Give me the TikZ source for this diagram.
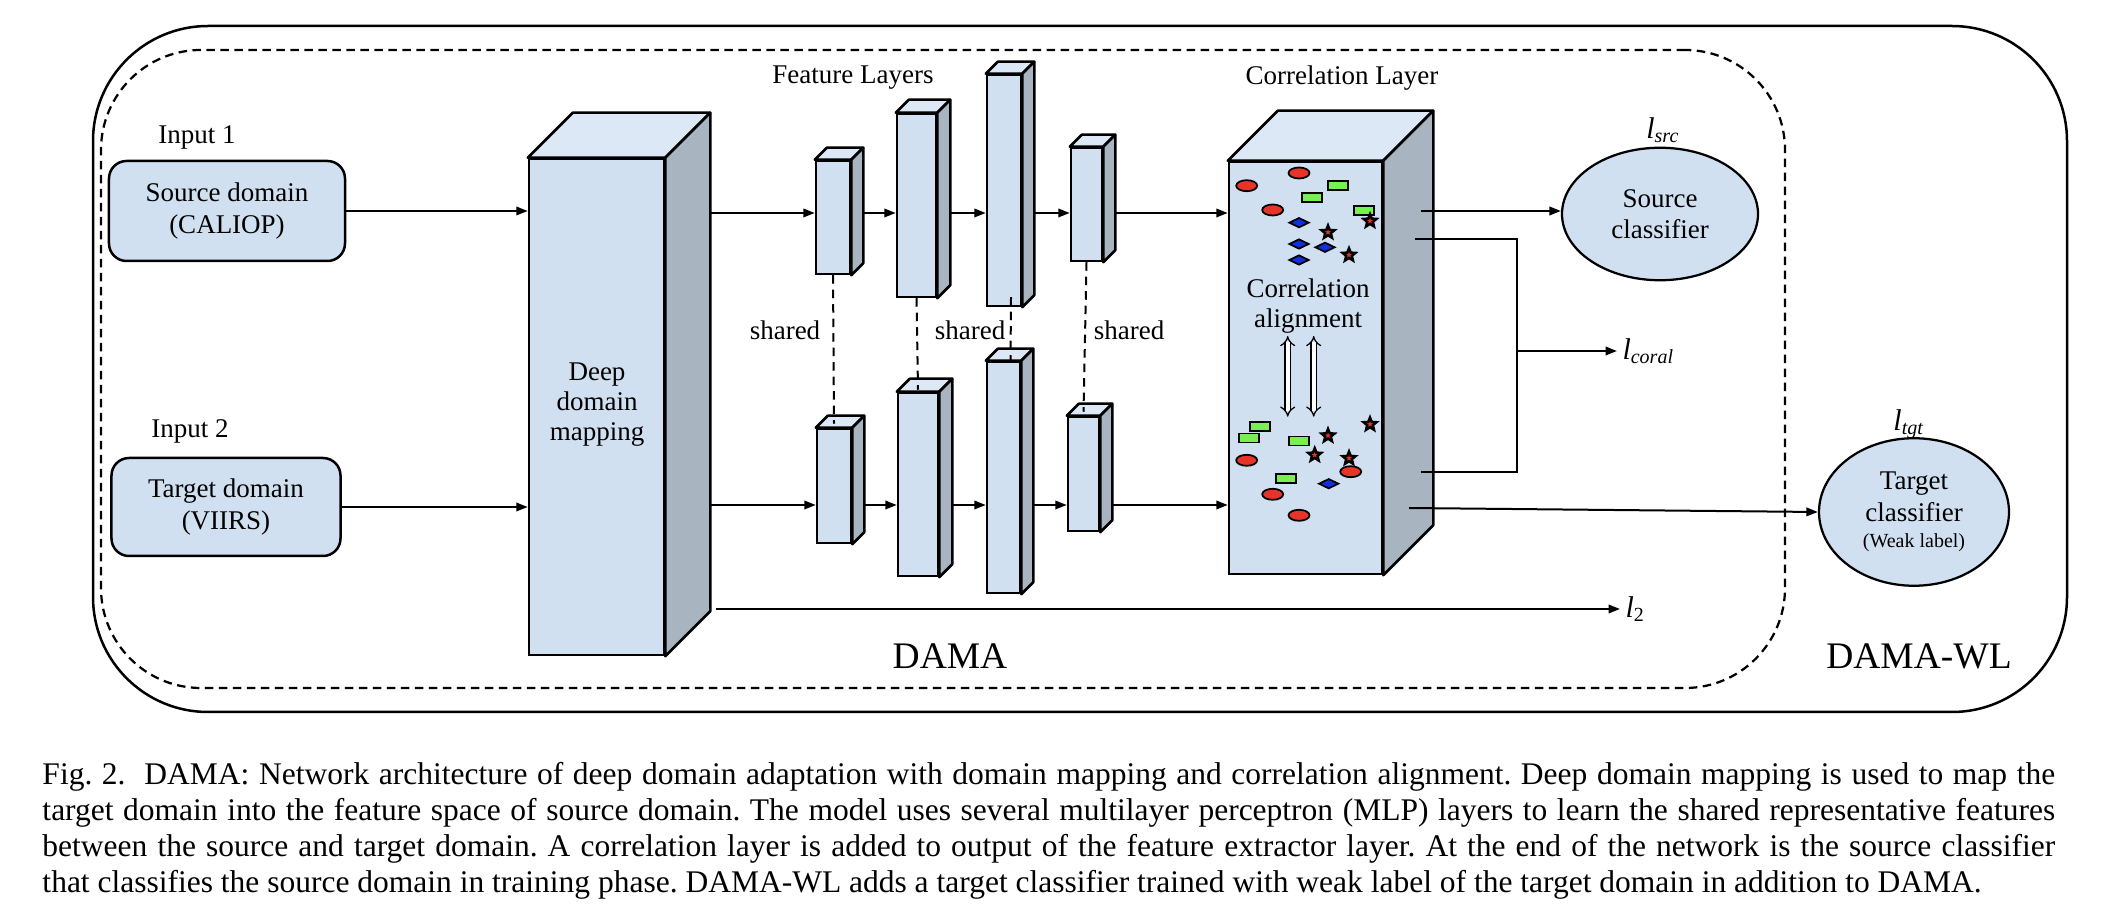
\documentclass[tikz,border=0pt]{standalone}
\usepackage{fontspec}
\setmainfont{Liberation Serif}
\usetikzlibrary{shapes.geometric, arrows.meta, calc, fit}
\definecolor{frontc}{RGB}{209,224,240}
\definecolor{topc}{RGB}{220,232,245}
\definecolor{sidec}{RGB}{168,180,192}
\definecolor{redc}{RGB}{232,52,40}
\definecolor{greenc}{RGB}{120,240,80}
\definecolor{bluec}{RGB}{16,48,224}
\tikzset{
  frontface/.style={draw=black, fill=frontc, line width=1pt, inner sep=0pt},
  topface/.style={draw=black, fill=topc, line width=1pt, line join=round},
  sideface/.style={draw=black, fill=sidec, line width=1pt, line join=round},
  arr/.style={line width=0.8pt, -{Triangle[length=4.6pt,width=3.4pt]}},
  conn/.style={line width=0.8pt},
  shareline/.style={line width=0.8pt, dash pattern=on 3.4pt off 2.4pt},
  txt/.style={font=\fontsize{10.8}{12.5}\selectfont, align=center, inner sep=1pt},
  big/.style={font=\fontsize{15}{18}\selectfont, inner sep=1pt},
  lab/.style={font=\fontsize{12}{14}\selectfont, inner sep=2pt},
  inbox/.style={draw=black, fill=frontc, line width=1pt, rounded corners=7pt, txt},
  clsf/.style={ellipse, draw=black, fill=frontc, line width=0.9pt, txt, inner sep=0pt},
  redell/.style={ellipse, minimum width=8.4pt, minimum height=4.4pt, inner sep=0pt, fill=redc, draw=black, line width=0.7pt},
  greenbox/.style={rectangle, minimum width=8.2pt, minimum height=3.6pt, inner sep=0pt, fill=greenc, draw=black, line width=0.7pt},
  bluedia/.style={diamond, minimum width=8pt, minimum height=4pt, aspect=2, inner sep=0pt, fill=bluec, draw=black, line width=0.7pt},
  redstar/.style={star, star points=5, star point ratio=2.3, minimum size=5.4pt, inner sep=0pt, fill=redc, draw=black, line width=1pt, line join=miter},
  dblarr/.style={line width=0.5pt, double=white, double distance=1.6pt, {Implies}-{Implies}},
}
\newcommand\mycub[6]{%
  \node[frontface, fit={(#2,#3) (#4,#5)}] (#1) {};
  \filldraw[topface] (#1.north west) -- ++(#6,-#6) -- ($(#1.north east)+(#6,-#6)$) -- (#1.north east) -- cycle;
  \filldraw[sideface] (#1.north east) -- ++(#6,-#6) -- ($(#1.south east)+(#6,-#6)$) -- (#1.south east) -- cycle;
}
\begin{document}
\begin{tikzpicture}[x=0.4pt, y=-0.4pt]
\useasboundingbox (0,0) rectangle (2112,924);

% frames
\node[fit={(93,26) (2067,712)}, draw, line width=1pt, rounded corners=46pt, inner sep=0pt] (outer) {};
\node[fit={(101,50) (1785,688)}, draw, line width=0.9pt, rounded corners=40pt, inner sep=0pt, dash pattern=on 3.4pt off 2.2pt] (dama) {};
\node[big] (damalbl) at (950,656) {DAMA};
\node[big] (damawl) at (1919,656) {DAMA-WL};

% inputs
\node[txt] (in1) at (197,137) {Input 1};
\node[txt] (in2) at (190,431) {Input 2};
\node[inbox, minimum width=94.4pt, minimum height=40pt] (src) at (227,211) {Source domain\\(CALIOP)};
\node[inbox, minimum width=91.6pt, minimum height=39.2pt] (tgt) at (226,507) {Target domain\\(VIIRS)};

% deep domain mapping
\mycub{DDM}{529}{159}{664}{655}{45}
\node[txt, font=\fontsize{10.8}{12}\selectfont] (ddmtxt) at (597,405) {Deep\\domain\\mapping};

\coordinate (ytop) at (0,213);
\coordinate (ybot) at (0,505);

\draw[arr] (src.east) -- (src.east -| DDM.west);
\draw[arr] (tgt.east) -- (tgt.east -| DDM.west);

% feature layers
\node[txt] (fl) at (853,78) {Feature Layers};
\mycub{L1}{816}{161}{850}{274}{12}
\mycub{L2}{897}{114}{936}{297}{13}
\mycub{L3}{987}{75}{1021}{306}{12}
\mycub{L4}{1071}{148}{1102}{261}{12}
\mycub{L1b}{817}{429}{851}{543}{12}
\mycub{L2b}{898}{393}{938}{576}{13}
\mycub{L3b}{987}{362}{1020}{593}{12}
\mycub{L4b}{1068}{417}{1099}{531}{12}

% correlation layer
\node[txt] (cllbl) at (1342,78) {Correlation Layer};
\mycub{CL}{1229}{162}{1382}{574}{50}

% arrows along rows
\draw[arr] ($(DDM.east |- ytop)+(45,0)$) -- (L1.west |- ytop);
\draw[arr] ($(L1.east |- ytop)+(12,0)$) -- (L2.west |- ytop);
\draw[arr] ($(L2.east |- ytop)+(13,0)$) -- (L3.west |- ytop);
\draw[arr] ($(L3.east |- ytop)+(12,0)$) -- (L4.west |- ytop);
\draw[arr] ($(L4.east |- ytop)+(12,0)$) -- (CL.west |- ytop);
\draw[arr] ($(DDM.east |- ybot)+(45,0)$) -- (L1b.west |- ybot);
\draw[arr] ($(L1b.east |- ybot)+(12,0)$) -- (L2b.west |- ybot);
\draw[arr] ($(L2b.east |- ybot)+(13,0)$) -- (L3b.west |- ybot);
\draw[arr] ($(L3b.east |- ybot)+(12,0)$) -- (L4b.west |- ybot);
\draw[arr] ($(L4b.east |- ybot)+(12,0)$) -- (CL.west |- ybot);

% shared
\draw[shareline] (L1.south) -- ($(L1b.north)+(0,-4)$);
\draw[shareline] (L2.south) -- ($(L2b.north)+(0,-2)$);
\draw[shareline] ($(L3.south)+(7,-10)$) -- ($(L3b.north)+(7,0)$);
\draw[shareline] (L4.south) -- ($(L4b.north)+(0,-4)$);
\node[txt] (sh1) at (785,330) {shared};
\node[txt] (sh2) at (970,330) {shared};
\node[txt] (sh3) at (1129,330) {shared};

% shapes inside correlation layer
\foreach \x/\y [count=\i] in {1299/173, 1246.7/185.7, 1272.7/210, 1246.7/460.3, 1350.7/471.7, 1272.7/494.3, 1299/515.3}
  \node[redell] (re\i) at (\x,\y) {};
\foreach \x/\y [count=\i] in {1338/185.3, 1312/197.7, 1364/210.3, 1260/426.3, 1249/438, 1299/441, 1286/478.2}
  \node[greenbox] (gr\i) at (\x,\y) {};
\foreach \x/\y [count=\i] in {1299/222.7, 1299/244, 1325/247.3, 1299/260, 1328.7/483.7}
  \node[bluedia] (bd\i) at (\x,\y) {};
\foreach \x/\y [count=\i] in {1370/221, 1328/232.3, 1349/255, 1370/424.3, 1328/435.7, 1314.7/455, 1349/458.3}
  \node[redstar] (st\i) at (\x,\y) {};

\node[txt, font=\fontsize{10.8}{11.8}\selectfont] (corrtxt) at (1308,306) {Correlation\\alignment};
\coordinate (da1s) at (1287.7,336);
\coordinate (da1e) at (1287.7,416.7);
\coordinate (da2s) at (1313.7,336);
\coordinate (da2e) at (1313.7,416.7);
\draw[dblarr] (da1s) -- (da1e);
\draw[dblarr] (da2s) -- (da2e);

% classifiers
\node[clsf, minimum width=78.4pt, minimum height=53pt] (scls) at (1660,214) {Source\\classifier};
\node[clsf, minimum width=76pt, minimum height=59pt] (tcls) at (1914,512) {Target\\classifier\\[-2pt]{\fontsize{8}{9}\selectfont (Weak label)}};
\node[lab] (lsrc) at (1663,130) {\textit{l}\textsubscript{\textit{src}}};
\node[lab] (ltgt) at (1909,424) {\textit{l}\textsubscript{\textit{tgt}}};
\node[lab, anchor=west] (lcoral) at (1617,351) {\textit{l}\textsubscript{\textit{coral}}};
\node[lab, anchor=west] (ltwo) at (1620,609) {\textit{l}\textsubscript{2}};

% outputs of correlation layer
\coordinate (cs1) at (1421,211);
\coordinate (cs2) at (1415,239);
\coordinate (cs3) at (1421,472);
\coordinate (cs4) at (1409,508);
\coordinate (bk1) at (1517,239);
\coordinate (bk2) at (1517,472);
\coordinate (jc) at (1517,351);
\draw[arr] (cs1) -- (cs1 -| scls.west);
\draw[conn] (cs2) -- (bk1) -- (bk2) -- (cs3);
\draw[arr] (jc) -- (lcoral.west);
\draw[arr] (cs4) -- (tcls.west);
\coordinate (l2s) at (716,609);
\draw[arr] (l2s) -- (ltwo.west);

% caption
\node[anchor=north west, inner sep=0pt, text width=805pt, align=justify, font=\fontsize{12.6}{14.4}\selectfont] (cap) at (42,762) {\frenchspacing
Fig.~2.\hskip 0.6em DAMA: Network architecture of deep domain adaptation with domain mapping and correlation alignment. Deep domain mapping is used to map the\linebreak
target domain into the feature space of source domain. The model uses several multilayer perceptron (MLP) layers to learn the shared representative features\linebreak
between the source and target domain. A correlation layer is added to output of the feature extractor layer. At the end of the network is the source classifier\linebreak
that classifies the source domain in training phase. DAMA-WL adds a target classifier trained with weak label of the target domain in addition to DAMA.};
\end{tikzpicture}
\end{document}
